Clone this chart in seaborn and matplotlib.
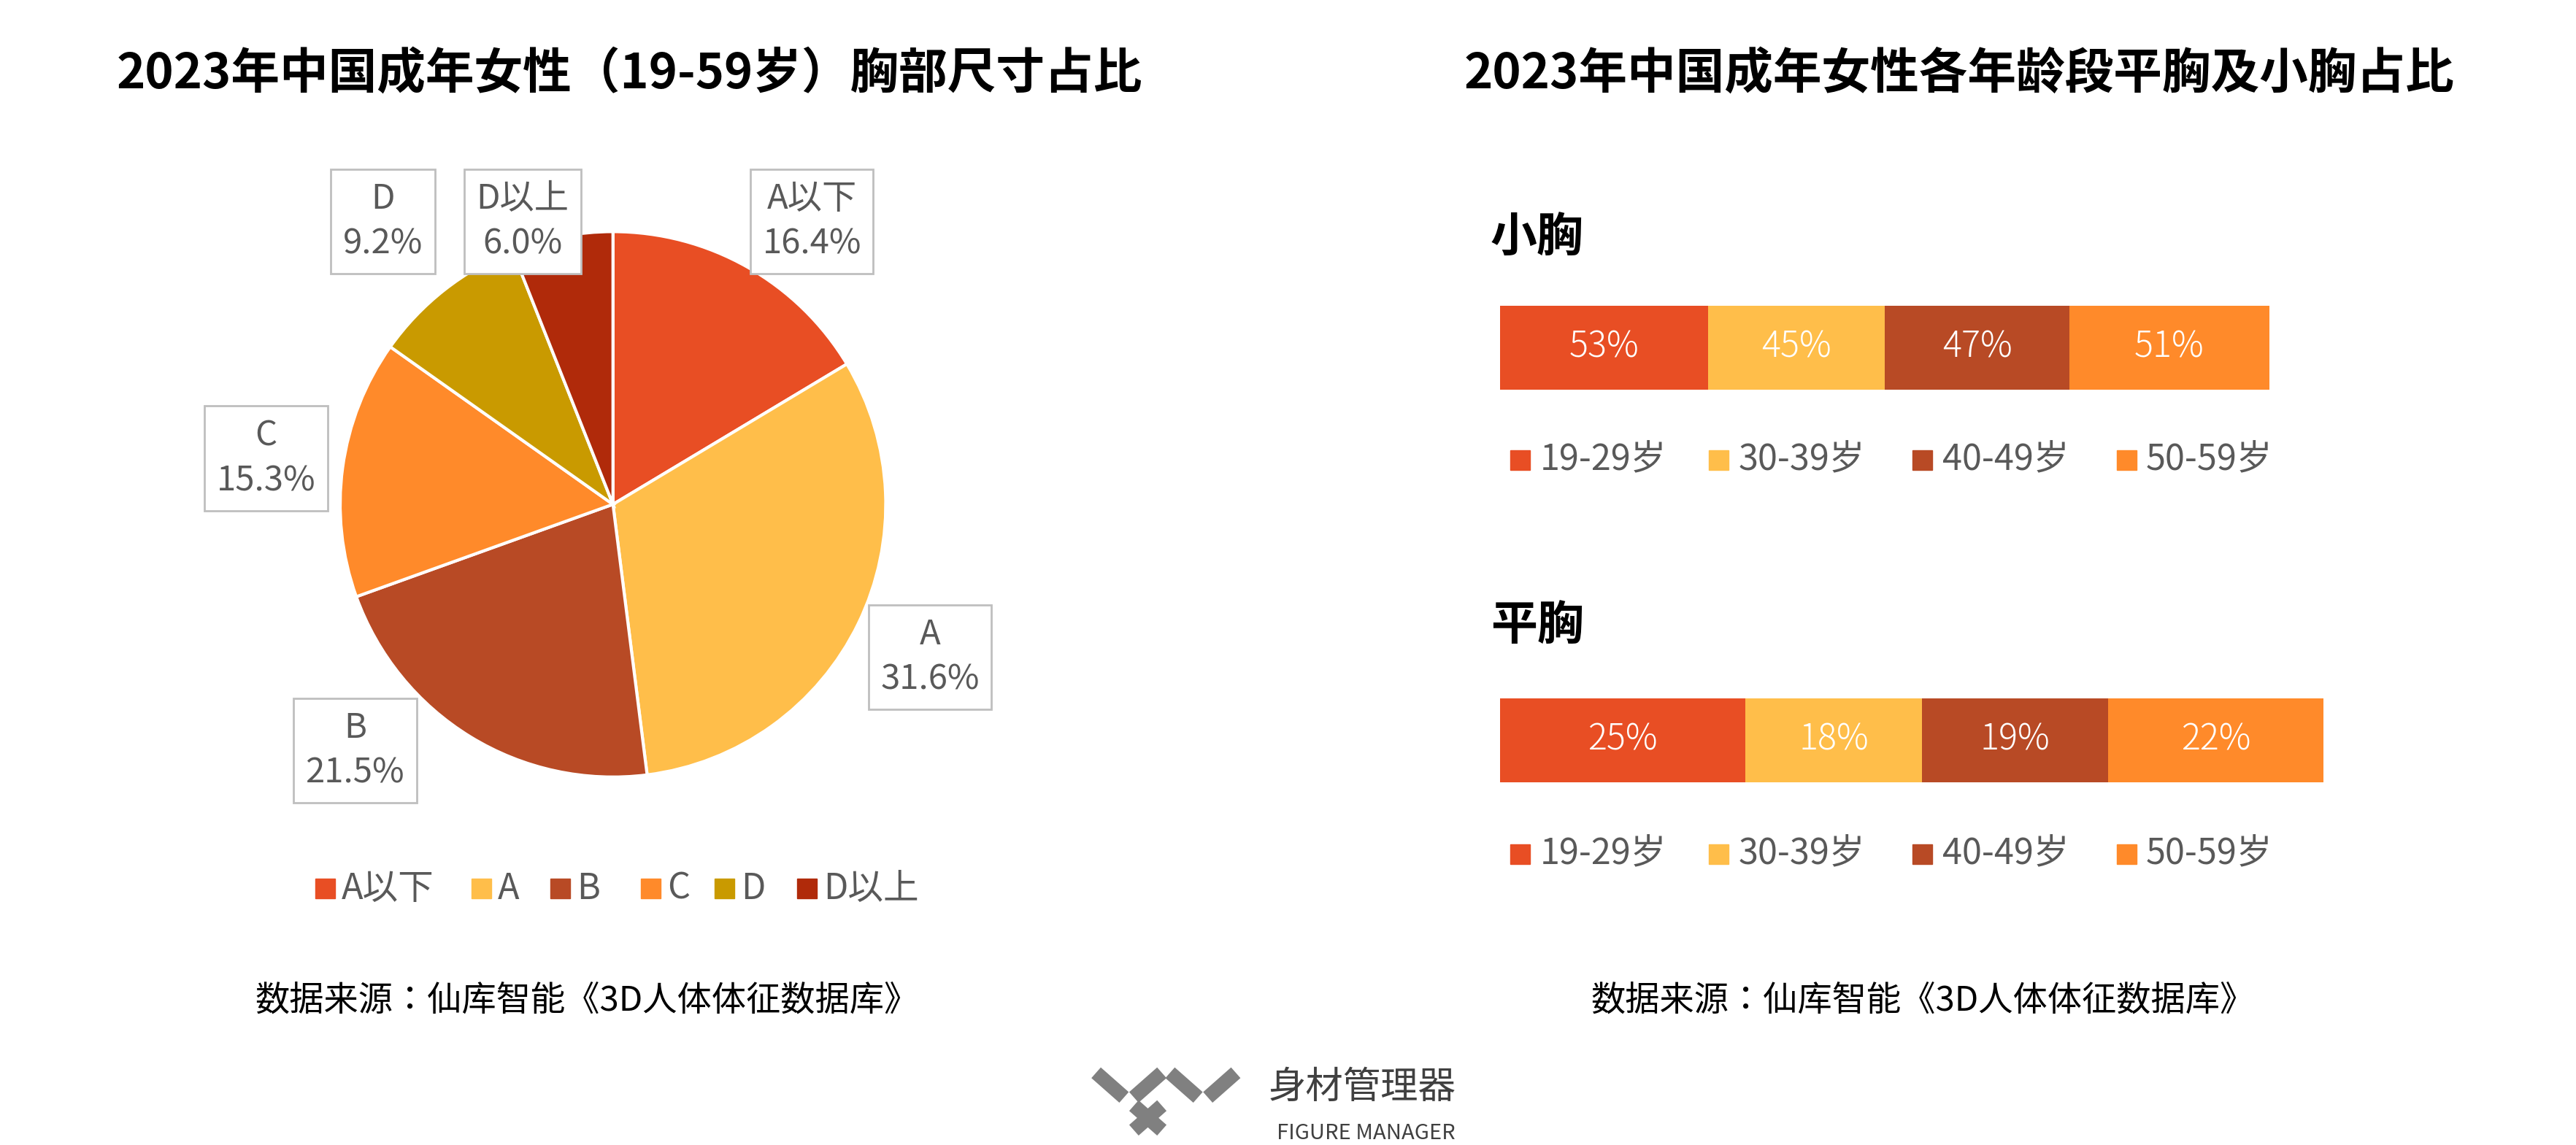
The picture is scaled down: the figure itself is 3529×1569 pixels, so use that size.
import numpy as np
import pandas as pd
import matplotlib.pyplot as plt
import seaborn as sns
from matplotlib.patches import Rectangle
from matplotlib import font_manager as fm

cands = [f for f in fm.findSystemFonts() if 'CJK' in f or 'cjk' in f.lower()]
for f in cands:
    try:
        fm.fontManager.addfont(f)
    except Exception:
        pass
names = sorted({fm.FontProperties(fname=f).get_name() for f in cands})
cjk = next((n for n in names if 'SC' in n), names[0] if names else 'DejaVu Sans')
plt.rcParams['font.family'] = 'sans-serif'
plt.rcParams['font.sans-serif'] = [cjk, 'Noto Sans CJK SC', 'DejaVu Sans']

# ---- data ----
cup_labels = ['A以下', 'A', 'B', 'C', 'D', 'D以上']
cup_share = [16.4, 31.6, 21.5, 15.3, 9.2, 6.0]
cup_colors = ['#E84E24', '#FFBE4A', '#B84A25', '#FF8A2A', '#C99A00', '#B02A0A']

age_groups = ['19-29岁', '30-39岁', '40-49岁', '50-59岁']
small_share = [53, 45, 47, 51]
flat_share = [25, 18, 19, 22]
age_colors = ['#E84E24', '#FFBE4A', '#B84A25', '#FF8A2A']

W, H = 1568, 697  # layout reference grid
fig = plt.figure(figsize=(35.3, 15.69), dpi=100)


def fx(x):
    return x / W


def fy(y):
    return 1 - y / H


# ---- left: pie ----
r = 166
axp = fig.add_axes([fx(373 - r), fy(307 + r), 2 * r / W, 2 * r / H])
axp.pie(cup_share, colors=cup_colors, startangle=90, counterclock=False,
        wedgeprops=dict(edgecolor='white', linewidth=3))
axp.set_aspect('auto')
axp.set_xlim(-1, 1)
axp.set_ylim(-1, 1)

label_pos = [(494, 135), (566, 400), (216, 457), (162, 279), (233, 135), (318, 135)]
for lab, val, (x, y) in zip(cup_labels, cup_share, label_pos):
    fig.text(fx(x), fy(y), f'{lab}\n{val:.1f}%', ha='center', va='center',
             fontsize=34, color='#595959', linespacing=1.35,
             bbox=dict(boxstyle='square,pad=0.35', fc='white', ec='#BFBFBF', lw=2))

fig.text(fx(383), fy(45), '2023年中国成年女性（19-59岁）胸部尺寸占比',
         ha='center', va='center', fontsize=48, fontweight='bold')

leg_x = [198, 293, 341, 396, 441, 491]
for lab, c, x in zip(cup_labels, cup_colors, leg_x):
    fig.patches.append(Rectangle((fx(x - 6), fy(547)), 12 / W, 12 / H,
                                 transform=fig.transFigure, color=c))
    fig.text(fx(x + 10), fy(541), lab, ha='left', va='center', fontsize=35, color='#595959')

fig.text(fx(357), fy(609), '数据来源：仙库智能《3D人体体征数据库》',
         ha='center', va='center', fontsize=34)

# ---- right: stacked bars ----
fig.text(fx(1192), fy(45), '2023年中国成年女性各年龄段平胸及小胸占比',
         ha='center', va='center', fontsize=48, fontweight='bold')


def stacked(ax, values, xmax):
    cum = np.cumsum(values)
    df = pd.DataFrame({'group': age_groups, 'cum': cum, 'row': ['r'] * 4})
    for i in range(3, -1, -1):
        sns.barplot(data=df.iloc[[i]], x='cum', y='row', color=age_colors[i],
                    width=1.0, ax=ax, saturation=1)
    starts = cum - np.array(values)
    for s, v in zip(starts, values):
        ax.text(s + v / 2, 0, f'{v}%', ha='center', va='center',
                fontsize=35, color='white', fontweight='light')
    ax.set_xlim(0, xmax)
    ax.set_ylim(0.5, -0.5)
    ax.axis('off')


bar_left, bar_right = 913, 1414
ax1 = fig.add_axes([fx(bar_left), fy(237), (bar_right - bar_left) / W, 51 / H])
stacked(ax1, small_share, sum(small_share) * (bar_right - bar_left) / (1381 - bar_left))
ax2 = fig.add_axes([fx(bar_left), fy(476), (bar_right - bar_left) / W, 51 / H])
stacked(ax2, flat_share, sum(flat_share))

fig.text(fx(907), fy(145), '小胸', ha='left', va='center', fontsize=46, fontweight='bold')
fig.text(fx(907), fy(381), '平胸', ha='left', va='center', fontsize=46, fontweight='bold')

for ly in (280, 520):
    for lab, c, x in zip(age_groups, age_colors, [925, 1046, 1170, 1294]):
        fig.patches.append(Rectangle((fx(x - 6), fy(ly + 6)), 12 / W, 12 / H,
                                     transform=fig.transFigure, color=c))
        fig.text(fx(x + 12), fy(ly), lab, ha='left', va='center', fontsize=35, color='#595959')

fig.text(fx(1170), fy(609), '数据来源：仙库智能《3D人体体征数据库》',
         ha='center', va='center', fontsize=34)

# ---- logo ----
axl = fig.add_axes([fx(662), fy(695), 95 / W, 50 / H])
axl.set_xlim(0, 95)
axl.set_ylim(0, 50)
axl.axis('off')
for x0, x1, y0, y1 in [(5, 22, 42, 27), (28, 45, 27, 42), (50, 67, 42, 27), (73, 90, 27, 42),
                       (28, 45, 22, 7), (28, 45, 7, 22)]:
    axl.plot([x0, x1], [y0, y1], color='#808080', lw=14, solid_capstyle='butt')
fig.text(fx(772), fy(662), '身材管理器', ha='left', va='center', fontsize=37, color='#404040')
fig.text(fx(777), fy(690), 'FIGURE MANAGER', ha='left', va='center', fontsize=21, color='#404040')

fig.savefig('out.png', dpi=100, facecolor='white')
